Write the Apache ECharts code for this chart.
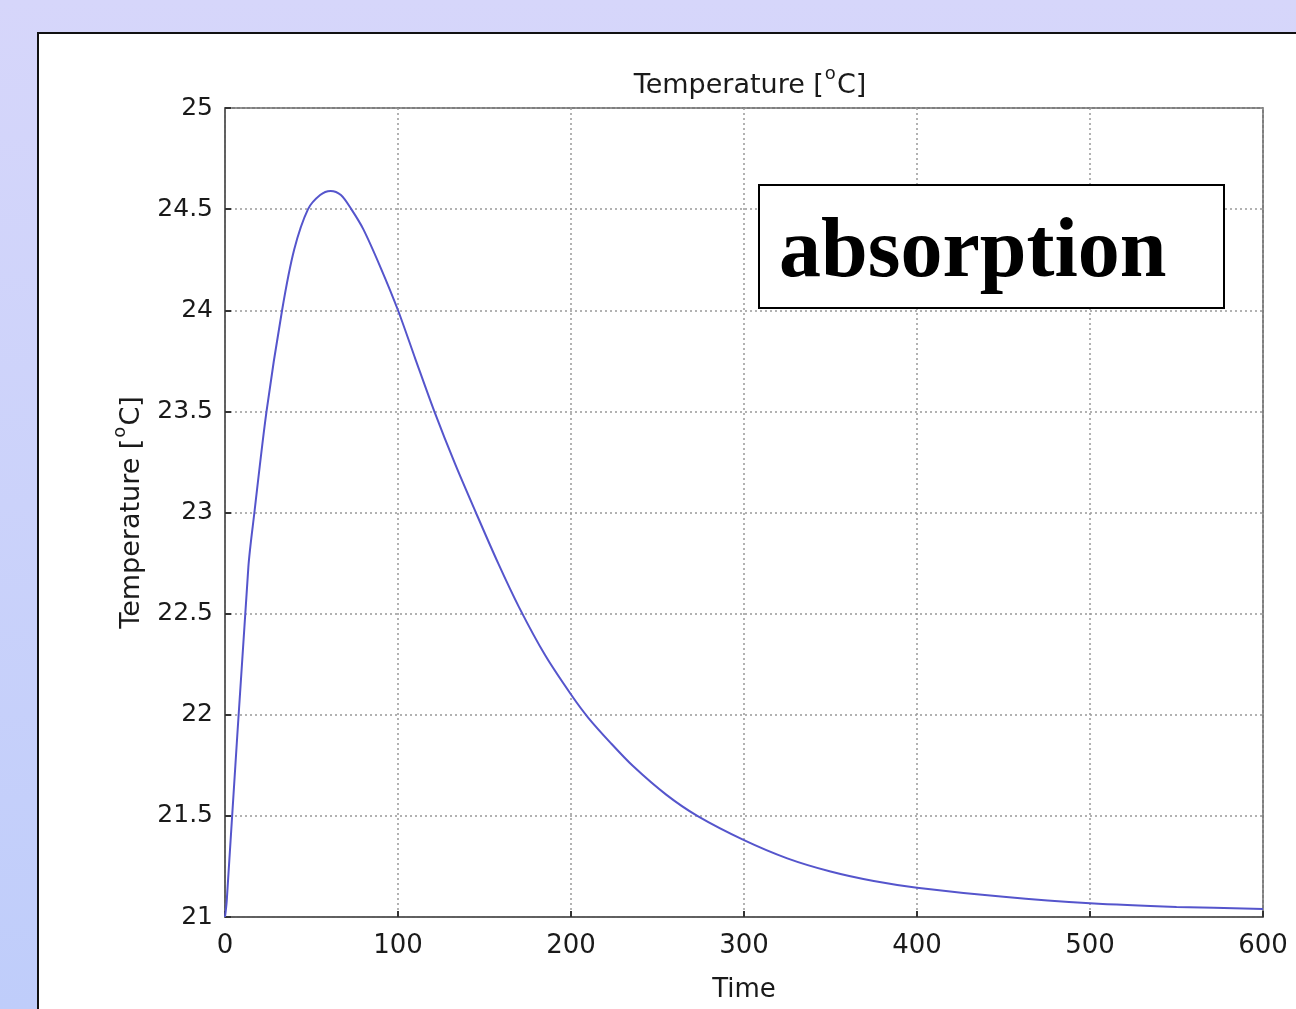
<!DOCTYPE html>
<html>
<head>
<meta charset="utf-8">
<script src="https://cdn.jsdelivr.net/npm/echarts@6/dist/echarts.min.js"></script>
<style>
html,body{margin:0;padding:0;width:1296px;height:1009px;overflow:hidden;}
body{background:linear-gradient(to bottom,#d6d6fa 0%,#cbd2fa 50%,#bfcdfa 100%);position:relative;}
#panel{position:absolute;left:37px;top:32px;width:1300px;height:1000px;background:#fff;border:2px solid #111;}
#chart{position:absolute;left:0;top:0;width:1296px;height:1009px;}
</style>
</head>
<body>
<div id="panel"></div>
<div id="chart"></div>
<script>
// Time (s) and temperature (°C)
const times = [0, 1, 13.5, 17, 24, 33, 40, 48, 55, 61, 67, 73, 80, 90, 100, 110, 121, 133, 145, 158, 170, 185, 200, 210, 223, 236, 255, 273, 300, 325, 350, 375, 400, 450, 500, 550, 600];
const temps = [21, 21.08, 22.73, 23.0, 23.5, 24.0, 24.3, 24.5, 24.57, 24.59, 24.57, 24.5, 24.40, 24.21, 24.0, 23.76, 23.5, 23.24, 23.0, 22.747, 22.531, 22.295, 22.10, 21.985, 21.86, 21.745, 21.605, 21.5, 21.38, 21.29, 21.225, 21.178, 21.145, 21.1, 21.068, 21.05, 21.04];
const xTicks = [0, 100, 200, 300, 400, 500, 600];
const yTicks = [21, 21.5, 22, 22.5, 23, 23.5, 24, 24.5, 25];
const titleText = '{n|Temperature [}{s|o}{n|C]}';
const xName = 'Time';
const yName = '{n|Temperature [}{s|o}{n|C]}';
const annotation = 'absorption';

const chart = echarts.init(document.getElementById('chart'));
const font = 'DejaVu Sans';
const supRich = {
  n: {fontSize: 27, fontFamily: font, color: '#1a1a1a', lineHeight: 34, verticalAlign: 'bottom'},
  s: {fontSize: 18, fontFamily: font, color: '#1a1a1a', lineHeight: 18, verticalAlign: 'top', padding: [0, 1, 0, 1]}
};
chart.setOption({
  backgroundColor: 'transparent',
  animation: false,
  title: {
    text: titleText,
    left: 745, top: 60, textAlign: 'center',
    textStyle: {fontFamily: font, fontSize: 27, fontWeight: 'normal', color: '#1a1a1a', rich: supRich}
  },
  grid: {left: 225, top: 108, right: 33, bottom: 92, show: true, borderColor: '#555', borderWidth: 1.5, backgroundColor: 'transparent'},
  xAxis: {
    type: 'value', min: xTicks[0], max: xTicks[xTicks.length - 1], interval: 100,
    name: xName, nameLocation: 'middle', nameGap: 60,
    nameTextStyle: {fontFamily: font, fontSize: 26, color: '#1a1a1a'},
    axisLine: {lineStyle: {color: '#555', width: 1.5}},
    axisTick: {inside: true, length: 6, lineStyle: {color: '#333', width: 2}},
    axisLabel: {fontFamily: font, fontSize: 26, color: '#1a1a1a', margin: 16},
    splitLine: {show: true, lineStyle: {color: '#999', type: [2, 3], width: 1.5}}
  },
  yAxis: {
    type: 'value', min: yTicks[0], max: yTicks[yTicks.length - 1], interval: 0.5,
    name: yName, nameLocation: 'middle', nameGap: 80, nameRotate: 90,
    nameTextStyle: {fontFamily: font, fontSize: 26, color: '#1a1a1a', rich: supRich},
    axisLine: {show: true, lineStyle: {color: '#555', width: 1.5}},
    axisTick: {inside: true, length: 6, lineStyle: {color: '#333', width: 2}},
    axisLabel: {fontFamily: font, fontSize: 25, color: '#1a1a1a', margin: 12},
    splitLine: {show: true, lineStyle: {color: '#999', type: [2, 3], width: 1.5}}
  },
  series: [{
    type: 'line',
    data: times.map((t, i) => [t, temps[i]]),
    smooth: 0.3,
    symbol: 'none',
    lineStyle: {color: '#5555cc', width: 2}
  }],
  graphic: [{
    type: 'rect',
    shape: {x: 759, y: 185, width: 465, height: 123},
    style: {fill: '#fff', stroke: '#000', lineWidth: 2},
    z: 10
  }, {
    type: 'text',
    left: 779, top: 212,
    style: {text: annotation, font: 'bold 84px "Liberation Serif"', fill: '#000'},
    z: 11
  }]
});
</script>
</body>
</html>
